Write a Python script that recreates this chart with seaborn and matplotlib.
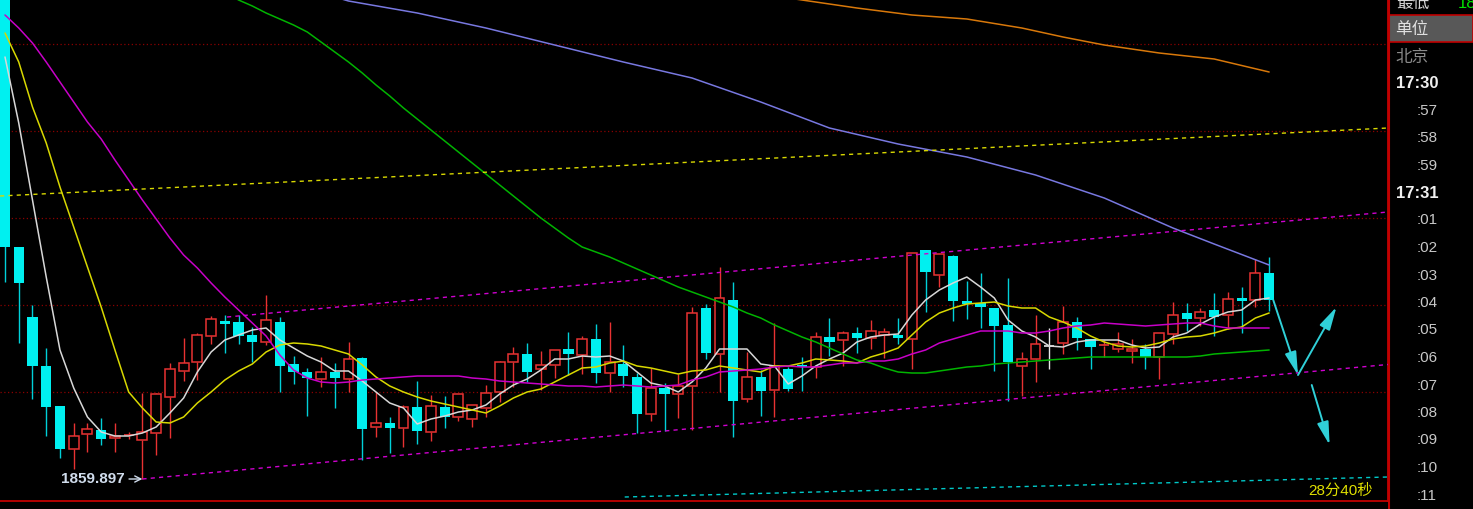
import numpy as np
import matplotlib
matplotlib.use("Agg")
import matplotlib.pyplot as plt
from matplotlib.patches import FancyArrowPatch, Rectangle
import seaborn as sns

# ---- candles (oldest first), prices ----
opens = [1913.8, 1883.1, 1876.1, 1871.2, 1867.2, 1862.9, 1864.4, 1864.8, 1864.0, 1864.2,
         1863.8, 1864.5, 1868.1, 1870.7, 1871.6, 1874.2, 1875.7, 1875.6, 1874.3, 1873.6,
         1875.6, 1871.4, 1870.6, 1869.9, 1870.6, 1869.9, 1872.0, 1865.1, 1865.5, 1865.0,
         1867.1, 1864.6, 1867.1, 1866.1, 1865.9, 1867.0, 1868.6, 1871.6, 1872.4, 1870.9,
         1871.3, 1872.9, 1872.3, 1873.9, 1870.5, 1871.4, 1870.1, 1866.4, 1869.0, 1868.4,
         1869.2, 1877.0, 1872.4, 1877.8, 1867.9, 1870.1, 1868.8, 1870.9, 1871.3, 1871.1,
         1874.1, 1873.8, 1874.5, 1874.0, 1874.3, 1874.3, 1873.9, 1882.8, 1880.3, 1882.2,
         1877.7, 1877.5, 1877.0, 1875.3, 1871.2, 1871.9, 1873.2, 1873.5, 1875.6, 1873.9,
         1873.2, 1872.9, 1872.7, 1872.9, 1872.1, 1874.4, 1876.5, 1876.0, 1876.8, 1876.3,
         1878.0, 1877.8, 1880.5]
highs = [1914.8, 1883.1, 1877.3, 1873.0, 1867.2, 1865.5, 1865.5, 1866.0, 1865.5, 1864.6,
         1868.5, 1868.5, 1871.5, 1874.0, 1874.5, 1876.2, 1876.3, 1876.3, 1875.1, 1878.3,
         1876.1, 1872.2, 1871.0, 1872.1, 1871.5, 1873.6, 1872.1, 1868.6, 1866.1, 1867.3,
         1869.7, 1868.3, 1868.2, 1868.4, 1867.3, 1869.3, 1871.7, 1873.1, 1873.5, 1872.7,
         1872.8, 1874.6, 1874.2, 1875.4, 1875.6, 1873.3, 1870.5, 1871.0, 1869.5, 1870.4,
         1877.1, 1877.4, 1881.1, 1879.6, 1872.6, 1870.8, 1875.5, 1871.1, 1872.1, 1874.6,
         1876.0, 1874.7, 1875.1, 1875.8, 1875.0, 1876.0, 1882.5, 1882.8, 1882.4, 1882.3,
         1879.7, 1880.5, 1877.0, 1880.0, 1872.6, 1876.3, 1875.0, 1877.2, 1876.1, 1873.9,
         1873.8, 1874.6, 1873.9, 1873.4, 1874.5, 1877.6, 1877.5, 1877.0, 1878.5, 1878.6,
         1879.1, 1881.9, 1882.1]
lows = [1879.6, 1873.5, 1867.9, 1864.2, 1862.0, 1860.9, 1862.6, 1863.3, 1862.6, 1863.9,
        1859.9, 1862.3, 1864.0, 1869.7, 1869.8, 1873.4, 1872.5, 1873.4, 1871.6, 1873.3,
        1868.6, 1869.4, 1866.2, 1869.1, 1867.0, 1868.6, 1861.8, 1864.1, 1862.5, 1863.1,
        1863.4, 1863.7, 1865.0, 1865.7, 1865.1, 1866.1, 1867.6, 1869.1, 1869.6, 1868.8,
        1870.0, 1870.3, 1870.4, 1869.5, 1868.6, 1869.1, 1864.5, 1865.7, 1864.7, 1866.0,
        1864.8, 1871.9, 1868.6, 1864.1, 1867.6, 1866.2, 1866.1, 1868.7, 1868.7, 1870.0,
        1872.2, 1871.2, 1872.5, 1872.9, 1872.0, 1873.4, 1870.9, 1876.6, 1879.1, 1875.7,
        1875.9, 1875.0, 1870.7, 1867.7, 1868.2, 1869.6, 1870.9, 1872.4, 1872.8, 1870.9,
        1872.1, 1872.6, 1871.5, 1870.9, 1869.9, 1873.4, 1874.7, 1875.2, 1874.2, 1874.9,
        1874.5, 1877.1, 1876.7]
closes = [1883.1, 1879.5, 1871.2, 1867.1, 1862.9, 1864.2, 1864.9, 1863.9, 1864.2, 1864.3,
          1864.6, 1868.4, 1870.9, 1871.5, 1874.3, 1875.9, 1875.4, 1874.2, 1873.6, 1875.8,
          1871.2, 1870.6, 1870.0, 1870.6, 1870.0, 1871.9, 1864.9, 1865.5, 1865.0, 1867.1,
          1864.7, 1867.2, 1866.1, 1868.4, 1867.3, 1868.5, 1871.6, 1872.4, 1870.6, 1871.3,
          1872.8, 1872.4, 1873.9, 1870.5, 1871.6, 1870.2, 1866.4, 1869.0, 1868.4, 1869.2,
          1876.5, 1872.5, 1878.0, 1867.7, 1870.1, 1868.7, 1871.2, 1868.9, 1871.1, 1874.1,
          1873.6, 1874.5, 1874.0, 1874.7, 1874.6, 1874.0, 1882.5, 1880.6, 1882.4, 1877.7,
          1877.4, 1877.1, 1875.2, 1871.6, 1871.9, 1873.4, 1873.2, 1875.6, 1874.0, 1873.1,
          1873.3, 1873.4, 1872.9, 1872.1, 1874.5, 1876.3, 1875.9, 1876.6, 1876.1, 1877.9,
          1877.7, 1880.5, 1877.8]

# ---- moving averages ----
ma_white = [1902.1, 1895.5, 1887.8, 1880.1, 1872.8, 1869.0, 1866.1, 1864.6, 1864.2, 1864.2,
            1864.5, 1865.1, 1866.5, 1868.0, 1870.6, 1872.6, 1873.8, 1874.3, 1874.8, 1875.0,
            1873.8, 1873.0, 1872.2, 1871.6, 1870.7, 1870.7, 1869.7, 1868.6, 1867.5, 1867.0,
            1865.4, 1865.9, 1866.2, 1866.6, 1866.8, 1867.3, 1868.4, 1869.3, 1869.9, 1870.8,
            1871.9, 1871.9, 1872.2, 1872.1, 1872.2, 1871.7, 1870.6, 1869.5, 1869.2, 1868.6,
            1869.6, 1871.0, 1872.9, 1872.9, 1872.9, 1871.4, 1871.2, 1869.4, 1870.2, 1871.2,
            1871.9, 1872.5, 1873.6, 1874.1, 1874.3, 1874.4, 1876.3, 1877.8, 1878.8, 1879.5,
            1880.1, 1879.1, 1878.0, 1875.8, 1874.7, 1874.1, 1873.2, 1873.1, 1873.6, 1873.8,
            1873.8, 1873.8, 1873.3, 1873.0, 1873.1, 1874.1, 1874.5, 1875.4, 1876.1, 1876.6,
            1876.8, 1877.8, 1878.0]
ma_yellow = [1904.5, 1901.6, 1897.1, 1893.5, 1889.1, 1885.1, 1881.1, 1877.1, 1872.8, 1868.6,
             1867.0, 1865.6, 1865.5, 1866.1, 1867.5, 1868.6, 1869.8, 1870.7, 1871.4, 1872.6,
             1873.3, 1873.5, 1873.4, 1873.2, 1872.8, 1872.4, 1871.3, 1870.1, 1869.2, 1868.6,
             1868.1, 1867.7, 1867.4, 1867.1, 1866.8, 1866.5, 1867.2, 1868.0, 1868.6, 1868.9,
             1869.6, 1870.3, 1871.0, 1871.1, 1871.5, 1871.7, 1871.2, 1871.0, 1870.7, 1870.4,
             1870.7, 1870.8, 1871.2, 1871.0, 1870.8, 1870.6, 1871.2, 1871.2, 1871.5, 1871.9,
             1871.8, 1871.7, 1871.5, 1872.1, 1872.5, 1873.0, 1874.3, 1875.6, 1876.5, 1877.0,
             1877.4, 1877.5, 1877.6, 1877.2, 1877.0, 1877.0, 1876.1, 1875.6, 1875.0, 1874.2,
             1873.6, 1873.2, 1873.1, 1873.2, 1873.5, 1873.9, 1874.1, 1874.2, 1874.5, 1874.9,
             1875.1, 1876.0, 1876.5]
ma_magenta = [1906.3, 1905.0, 1903.5, 1901.6, 1899.6, 1897.6, 1895.6, 1893.9, 1891.8, 1889.8,
              1887.8, 1885.9, 1884.0, 1882.3, 1881.0, 1879.5, 1878.1, 1876.8, 1875.5, 1874.2,
              1872.3, 1870.8, 1870.0, 1869.6, 1869.5, 1869.6, 1869.8, 1869.9, 1870.0, 1870.1,
              1870.2, 1870.2, 1870.2, 1870.2, 1870.0, 1869.9, 1869.7, 1869.6, 1869.5, 1869.4,
              1869.3, 1869.2, 1869.2, 1869.1, 1869.2, 1869.3, 1869.2, 1869.1, 1869.2, 1869.3,
              1869.8, 1870.1, 1870.6, 1870.7, 1870.8, 1870.9, 1871.1, 1871.2, 1871.1, 1871.1,
              1871.3, 1871.5, 1871.5, 1871.7, 1871.7, 1871.9, 1872.4, 1872.8, 1873.5, 1873.9,
              1874.3, 1874.7, 1874.7, 1874.7, 1874.5, 1874.5, 1874.7, 1875.0, 1875.2, 1875.3,
              1875.5, 1875.4, 1875.3, 1875.2, 1875.3, 1875.4, 1875.5, 1875.5, 1875.2, 1875.0,
              1875.0, 1875.0, 1875.0]
green_idx = list(range(16, 93))
ma_green = [1908.6, 1907.8, 1907.2, 1906.5, 1905.9, 1905.3, 1904.6, 1903.6, 1902.6, 1901.6,
            1900.5, 1899.3, 1898.2, 1897.0, 1895.9, 1894.8, 1893.7, 1892.6, 1891.5, 1890.4,
            1889.3, 1888.2, 1887.1, 1886.0, 1885.0, 1884.0, 1883.1, 1882.6, 1882.1, 1881.5,
            1880.9, 1880.3, 1879.7, 1879.1, 1878.6, 1878.1, 1877.6, 1877.1, 1876.5, 1876.0,
            1875.3, 1874.7, 1874.1, 1873.6, 1873.0, 1872.4, 1871.8, 1871.5, 1871.0, 1870.6,
            1870.5, 1870.5, 1870.7, 1870.9, 1871.1, 1871.2, 1871.4, 1871.5, 1871.6, 1871.7,
            1871.8, 1871.9, 1872.0, 1872.1, 1872.1, 1872.1, 1872.1, 1872.1, 1872.1, 1872.1,
            1872.1, 1872.2, 1872.4, 1872.5, 1872.6, 1872.7, 1872.8]
blue_idx = [24, 25, 30, 35, 40, 45, 50, 55, 60, 65, 70, 75, 80, 85, 88, 92]
ma_blue = [1908.1, 1907.7, 1906.5, 1905.0, 1903.3, 1901.6, 1900.0, 1897.6, 1895.0, 1893.4,
           1892.1, 1890.3, 1888.0, 1885.0, 1883.4, 1881.3]
orange_idx = [57, 58, 62, 66, 70, 74, 77, 80, 84, 88, 92]
ma_orange = [1908.0, 1907.8, 1907.0, 1906.3, 1905.9, 1905.0, 1904.1, 1903.3, 1902.5, 1901.9,
             1900.6]

# ---- drawn trend lines (x = bar index, y = price) ----
trend_yellow = [(-0.36, 1888.2), (100.65, 1895.0)]
trend_low = [(10.0, 1859.9), (100.65, 1871.35)]
trend_high = [(16.16, 1876.1), (100.65, 1886.6)]
trend_cyan = [(45.1, 1858.1), (100.65, 1860.1)]
arrows = [((92.3, 1877.8), (94.1, 1870.3)),
          ((94.1, 1870.3), (96.9, 1877.1)),
          ((95.1, 1869.3), (96.4, 1863.3))]
grid_levels = [1903.4, 1894.7, 1886.0, 1877.3, 1868.6]

low_label = "1859.897"
low_index = 10
timer_label = "28分40秒"
time_labels = ["17:30", ":57", ":58", ":59", "17:31", ":01", ":02", ":03", ":04",
               ":05", ":06", ":07", ":08", ":09", ":10", ":11"]

RED = "#e83232"
CYAN = "#00f0f0"
FRAME = "#c00000"

sns.set_style("dark", rc={"axes.facecolor": "black", "figure.facecolor": "black",
                          "axes.grid": False})
plt.rcParams['font.family'] = ['Liberation Sans', 'Noto Sans CJK SC', 'DejaVu Sans']

W, H = 1473, 509
fig = plt.figure(figsize=(W / 100, H / 100), dpi=100, facecolor="black")
ax = fig.add_axes([0, 8 / H, 1388 / W, 501 / H])
ax.set_facecolor("black")

# grid
for lv in grid_levels:
    ax.axhline(lv, color="#8a0000", lw=0.9, ls=(0, (1, 2)), zorder=1)

# candles
for i in range(len(opens)):
    o, h, l, c = opens[i], highs[i], lows[i], closes[i]
    top, bot = max(o, c), min(o, c)
    if c < o:
        ax.vlines(i, l, h, color="#00d0d8", lw=1.0, zorder=2)
        ax.bar(i, top - bot, bottom=bot, width=0.75, color=CYAN, lw=0, zorder=3)
        continue
    col = RED if c > o else "#e8e8e8"
    ax.vlines(i, top, h, color=col, lw=1.0, zorder=2)
    ax.vlines(i, l, bot, color=col, lw=1.0, zorder=2)
    if top - bot > 0.15:
        ax.bar(i, top - bot, bottom=bot, width=0.72, facecolor="black",
               edgecolor=col, lw=1.1, zorder=3)
    else:
        ax.hlines(top, i - 0.37, i + 0.37, color=col, lw=1.2, zorder=3)

# moving averages
bars = list(range(len(opens)))
sns.lineplot(x=bars, y=ma_white, ax=ax, color="#d8d8d8", lw=1.1, zorder=4)
sns.lineplot(x=bars, y=ma_yellow, ax=ax, color="#d8d800", lw=1.1, zorder=4)
sns.lineplot(x=bars, y=ma_magenta, ax=ax, color="#c800c8", lw=1.1, zorder=4)
sns.lineplot(x=green_idx, y=ma_green, ax=ax, color="#00b400", lw=1.1, zorder=4)
sns.lineplot(x=blue_idx, y=ma_blue, ax=ax, color="#7878e0", lw=1.1, zorder=4)
sns.lineplot(x=orange_idx, y=ma_orange, ax=ax, color="#d8780a", lw=1.1, zorder=4)

# trend lines
for pts, col in [(trend_yellow, "#d8d800"), (trend_low, "#d000d0"),
                 (trend_high, "#d000d0"), (trend_cyan, "#00c8c8")]:
    xs, ys = zip(*pts)
    ax.plot(xs, ys, color=col, lw=1.0, ls=(0, (3, 3)), zorder=4)

for (x0, y0), (x1, y1) in arrows:
    ax.add_patch(FancyArrowPatch((x0, y0), (x1, y1),
                                 arrowstyle="-|>,head_length=1.4,head_width=0.35",
                                 mutation_scale=10, color="#30d0d8", lw=1.4,
                                 shrinkA=0, shrinkB=0, zorder=5))

ax.annotate(low_label, xy=(low_index, lows[low_index]), xytext=(-13, 0),
            textcoords="offset points", ha="right", va="center",
            fontsize=11, fontweight="bold", color="#d0dcec",
            arrowprops=dict(arrowstyle="->", color="#d0dcec", lw=1.0,
                            shrinkA=1, shrinkB=0))
ax.text(0.989, 0.02, timer_label, transform=ax.transAxes, ha="right", va="center",
        fontsize=11, color="#e0e000",
        family=['Liberation Sans', 'Noto Sans CJK SC'])

ax.set_xlim(-0.364, 100.65)
ax.set_ylim(1857.7, 1907.8)
ax.set_xticks([])
ax.set_yticks([])
ax.set_xlabel("")
ax.set_ylabel("")
for s in ["top", "left"]:
    ax.spines[s].set_visible(False)
for s in ["bottom", "right"]:
    ax.spines[s].set_color(FRAME)
    ax.spines[s].set_linewidth(1.3)

# right side panel
side = fig.add_axes([1388 / W, 0, 85 / W, 1])
side.set_facecolor("black")
side.set_xlim(1388, 1473)
side.set_ylim(H, 0)
side.axis("off")
side.axvline(1388.6, color=FRAME, lw=1.5)
side.add_patch(Rectangle((1388, 15), 85, 27, facecolor="#585858",
                         edgecolor=FRAME, lw=1.2))
side.text(1396, 3, "最低", color="#d8d8d8", fontsize=12, va="center",
          family=['Noto Sans CJK SC'])
side.text(1458, 3, low_label, color="#00e000", fontsize=12, va="center")
side.text(1395, 29, "单位", color="#e0e0e0", fontsize=12, va="center",
          family=['Noto Sans CJK SC'])
side.text(1395, 57, "北京", color="#8a8a8a", fontsize=12, va="center",
          family=['Noto Sans CJK SC'])
for k, lab in enumerate(time_labels):
    y = 83 + 27.5 * k
    if lab.startswith(":"):
        side.text(1417, y, lab, color="#c8c8c8", fontsize=11, va="center")
    else:
        side.text(1396, y, lab, color="#f0f0f0", fontsize=12, va="center",
                  fontweight="bold")

fig.savefig("out.png", dpi=100, facecolor="black")
